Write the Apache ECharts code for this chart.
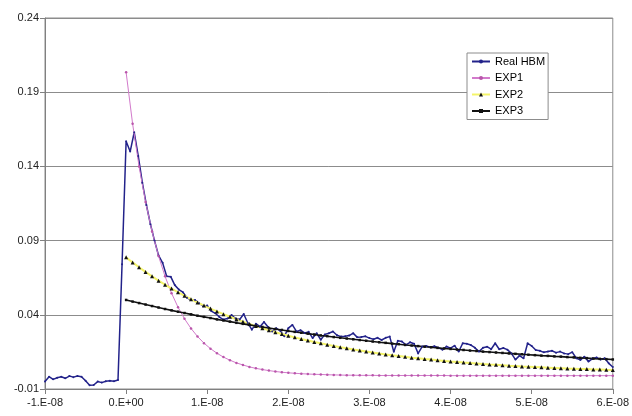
<!DOCTYPE html>
<html>
<head>
<meta charset="utf-8">
<script src="https://cdn.jsdelivr.net/npm/echarts@6/dist/echarts.min.js"></script>
<style>
  html, body { margin: 0; padding: 0; background: #fff; }
  #chart { width: 632px; height: 416px; }
</style>
</head>
<body>
<div id="chart"></div>
<script>
// time is in units of 1E-08 s
const xTickLabels = ["-1.E-08", "0.E+00", "1.E-08", "2.E-08", "3.E-08", "4.E-08", "5.E-08", "6.E-08"];
const yTickLabels = ["-0.01", "0.04", "0.09", "0.14", "0.19", "0.24"];
const seriesNames = ["Real HBM", "EXP1", "EXP2", "EXP3"];

// measured signal, sampled every 0.05 from -1
const hbmStart = -1;
const hbmStep = 0.05;
const hbmValues = [
  -0.005, -0.0017, -0.0035, -0.0024, -0.0017, -0.0028, -0.0013, -0.002, -0.0013, -0.0017,
  -0.0044, -0.0075, -0.0073, -0.005, -0.0057, -0.0048, -0.0044, -0.0048, -0.0039, 0.074,
  0.157, 0.150, 0.163, 0.147, 0.129, 0.114, 0.101, 0.090, 0.080, 0.075,
  0.066, 0.0657, 0.060, 0.057, 0.0552, 0.0515, 0.050, 0.050, 0.0478, 0.0458,
  0.0462, 0.0425, 0.041, 0.0385, 0.0368, 0.0375, 0.0398, 0.0375, 0.0368, 0.0405,
  0.0345, 0.030, 0.034, 0.032, 0.0352, 0.0318, 0.0288, 0.031, 0.0292, 0.0255,
  0.031, 0.0332, 0.0288, 0.0296, 0.0278, 0.0285, 0.0243, 0.0275, 0.0232, 0.0268,
  0.0276, 0.0287, 0.0262, 0.0253, 0.0255, 0.026, 0.0276, 0.0248, 0.025, 0.0255,
  0.0243, 0.0235, 0.0245, 0.023, 0.0245, 0.0253, 0.0151, 0.0225, 0.022, 0.0197,
  0.0215, 0.0205, 0.014, 0.0186, 0.019, 0.0182, 0.0188, 0.0178, 0.0165, 0.0186,
  0.0175, 0.0192, 0.0152, 0.0208, 0.0205, 0.0196, 0.0178, 0.0152, 0.0178, 0.0185,
  0.0168, 0.0208, 0.0168, 0.0176, 0.0165, 0.014, 0.0098, 0.0125, 0.0107, 0.0208,
  0.019, 0.0163, 0.0158, 0.0147, 0.0152, 0.0158, 0.0145, 0.0152, 0.014, 0.0135,
  0.0148, 0.0107, 0.0096, 0.0118, 0.0085, 0.0105, 0.0112, 0.0098, 0.0107, 0.0073,
  0.0048
];

// fitted curves, sampled every 0.08 from 0
const fitStart = 0;
const fitStep = 0.08;
const exp1Values = [
  0.2034, 0.1687, 0.1399, 0.1160, 0.0961, 0.0796, 0.0659, 0.0546, 0.0451, 0.0373,
  0.0308, 0.0254, 0.0209, 0.0172, 0.0141, 0.0115, 0.0094, 0.0076, 0.0062, 0.0049,
  0.0039, 0.0031, 0.0024, 0.0018, 0.0013, 0.0009, 0.0006, 0.0003, 0.0001, -0.0001,
  -0.0002, -0.0004, -0.0005, -0.0006, -0.0007, -0.0007, -0.0008, -0.0008, -0.0008, -0.0009,
  -0.0009, -0.0009, -0.0009, -0.0009, -0.0009, -0.0009, -0.0009, -0.0009, -0.0009, -0.0009,
  -0.001, -0.001, -0.001, -0.001, -0.001, -0.001, -0.001, -0.001, -0.001, -0.001,
  -0.001, -0.001, -0.001, -0.001, -0.001, -0.001, -0.001, -0.001, -0.001, -0.001,
  -0.001, -0.001, -0.001, -0.001, -0.001, -0.001
];
const exp2Values = [
  0.0787, 0.0753, 0.0720, 0.0689, 0.0659, 0.0630, 0.0603, 0.0577, 0.0552, 0.0528,
  0.0505, 0.0483, 0.0462, 0.0442, 0.0423, 0.0404, 0.0387, 0.0370, 0.0354, 0.0338,
  0.0324, 0.0310, 0.0296, 0.0283, 0.0271, 0.0259, 0.0248, 0.0237, 0.0227, 0.0217,
  0.0208, 0.0199, 0.0190, 0.0182, 0.0174, 0.0166, 0.0159, 0.0152, 0.0146, 0.0139,
  0.0133, 0.0127, 0.0122, 0.0117, 0.0111, 0.0107, 0.0102, 0.0098, 0.0093, 0.0089,
  0.0085, 0.0082, 0.0078, 0.0075, 0.0072, 0.0068, 0.0065, 0.0063, 0.0060, 0.0057,
  0.0055, 0.0052, 0.0050, 0.0048, 0.0046, 0.0044, 0.0042, 0.0040, 0.0038, 0.0037,
  0.0035, 0.0034, 0.0032, 0.0031, 0.0029, 0.0028
];
const exp3Values = [
  0.0500, 0.0489, 0.0479, 0.0469, 0.0459, 0.0449, 0.0439, 0.0430, 0.0421, 0.0412,
  0.0403, 0.0394, 0.0386, 0.0378, 0.0369, 0.0362, 0.0354, 0.0346, 0.0339, 0.0332,
  0.0325, 0.0318, 0.0311, 0.0304, 0.0298, 0.0291, 0.0285, 0.0279, 0.0273, 0.0267,
  0.0261, 0.0256, 0.0250, 0.0245, 0.0240, 0.0235, 0.0230, 0.0225, 0.0220, 0.0215,
  0.0211, 0.0206, 0.0202, 0.0197, 0.0193, 0.0189, 0.0185, 0.0181, 0.0177, 0.0173,
  0.0170, 0.0166, 0.0163, 0.0159, 0.0156, 0.0152, 0.0149, 0.0146, 0.0143, 0.0140,
  0.0137, 0.0134, 0.0131, 0.0128, 0.0125, 0.0123, 0.0120, 0.0118, 0.0115, 0.0113,
  0.0110, 0.0108, 0.0105, 0.0103, 0.0101, 0.0099
];

const xMin = -1, xMax = 6;
const yMin = -0.01, yMax = 0.24;

function toPairs(values, start, step) {
  return values.map((v, i) => [start + i * step, v]);
}

const font = "'Liberation Sans', Arial, sans-serif";
const chart = echarts.init(document.getElementById("chart"), null, { renderer: "canvas" });

const option = {
  animation: false,
  backgroundColor: "#fff",
  textStyle: { fontFamily: font },
  grid: {
    left: 45,
    right: 15,
    top: 18,
    bottom: 27,
    show: true,
    borderColor: "#8c8c8c",
    borderWidth: 1,
  },
  legend: {
    data: seriesNames,
    orient: "vertical",
    left: 467,
    top: 53,
    padding: [3, 3, 3, 4],
    itemWidth: 18,
    itemHeight: 5,
    itemGap: 5.5,
    borderColor: "#8c8c8c",
    borderWidth: 1,
    backgroundColor: "#fff",
    textStyle: { fontSize: 11, color: "#000", fontFamily: font },
  },
  xAxis: {
    type: "value",
    min: xMin,
    max: xMax,
    interval: 1,
    axisLine: { onZero: false, lineStyle: { color: "#808080", width: 1 } },
    axisTick: { show: true, length: 5, lineStyle: { color: "#808080" } },
    axisLabel: {
      color: "#222",
      fontSize: 11,
      margin: 8,
      formatter: (v) => xTickLabels[Math.round(v - xMin)],
    },
    splitLine: { show: false },
  },
  yAxis: {
    type: "value",
    min: yMin,
    max: yMax,
    interval: 0.05,
    axisLine: { show: true, onZero: false, lineStyle: { color: "#808080", width: 1 } },
    axisTick: { show: true, length: 5, lineStyle: { color: "#808080" } },
    axisLabel: {
      color: "#222",
      fontSize: 11,
      margin: 6,
      formatter: (v) => v.toFixed(2),
    },
    splitLine: { show: true, lineStyle: { color: "#8c8c8c", width: 1 } },
  },
  series: [
    {
      name: seriesNames[0],
      type: "line",
      data: toPairs(hbmValues, hbmStart, hbmStep),
      symbol: "circle",
      symbolSize: 2,
      lineStyle: { color: "#22228a", width: 1.5 },
      itemStyle: { color: "#22228a" },
    },
    {
      name: seriesNames[1],
      type: "line",
      data: toPairs(exp1Values, fitStart, fitStep),
      symbol: "circle",
      symbolSize: 2.5,
      lineStyle: { color: "#d27acb", width: 1 },
      itemStyle: { color: "#b956aa" },
    },
    {
      name: seriesNames[2],
      type: "line",
      data: toPairs(exp2Values, fitStart, fitStep),
      symbol: "triangle",
      symbolSize: 4,
      lineStyle: { color: "#f4f46a", width: 2 },
      itemStyle: { color: "#111" },
    },
    {
      name: seriesNames[3],
      type: "line",
      data: toPairs(exp3Values, fitStart, fitStep),
      symbol: "rect",
      symbolSize: 2.5,
      lineStyle: { color: "#111", width: 1.6 },
      itemStyle: { color: "#111" },
    },
  ],
};

chart.setOption(option);
</script>
</body>
</html>
